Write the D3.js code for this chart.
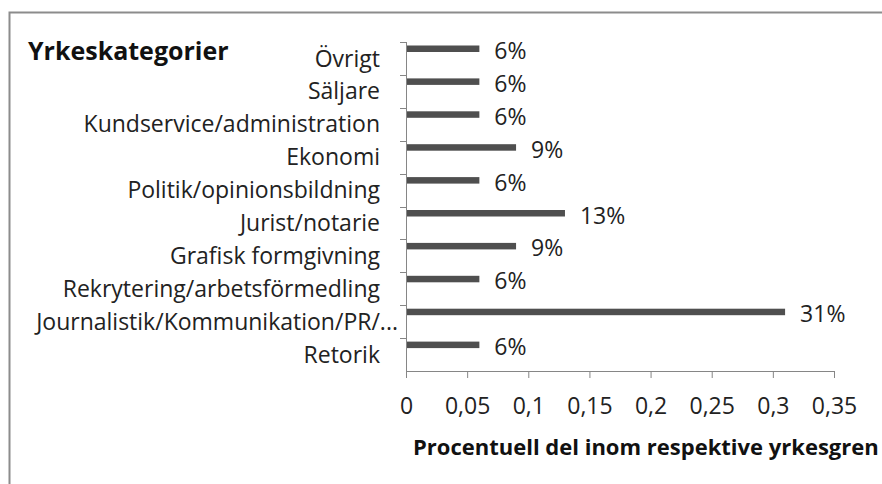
<!DOCTYPE html>
<html>
  <head>
    <title>Yrkeskategorier</title>
    <script src="https://d3js.org/d3.v7.min.js"></script>
    <style>
      body { background-color: white; margin: 0; }
      text { font-family: 'Open Sans', sans-serif; }
    </style>
  </head>
  <body>
    <svg id="canvas" height='484' width='882'></svg>

    <script>
      // categories top to bottom, as in the picture
      const categories = [
        'Övrigt',
        'Säljare',
        'Kundservice/administration',
        'Ekonomi',
        'Politik/opinionsbildning',
        'Jurist/notarie',
        'Grafisk formgivning',
        'Rekrytering/arbetsförmedling',
        'Journalistik/Kommunikation/PR/...',
        'Retorik'
      ]
      const shares = [0.06, 0.06, 0.06, 0.09, 0.06, 0.13, 0.09, 0.06, 0.31, 0.06]
      const xTicks = [0, 0.05, 0.1, 0.15, 0.2, 0.25, 0.3, 0.35]
      const xTickLabels = ['0', '0,05', '0,1', '0,15', '0,2', '0,25', '0,3', '0,35']

      const rows = categories.map((c, i) => ({ name: c, value: shares[i] }))

      const axisColor = '#868686'
      const barColor = '#4f4f4f'
      const textColor = '#222'
      const labelSize = 23

      let margin = { top: 42, left: 406, right: 48, bottom: 113 }

      let svg = d3.select('#canvas')
      let width = +svg.attr('width') - margin.left - margin.right
      let height = +svg.attr('height') - margin.top - margin.bottom

      // chart frame
      svg.append('rect')
        .attr('x', 9.5)
        .attr('y', 12.5)
        .attr('width', 900)
        .attr('height', 500)
        .attr('fill', 'white')
        .attr('stroke', '#8c8c8c')
        .attr('stroke-width', 2)

      let g = svg.append('g').attr('transform', `translate(${margin.left}, ${margin.top})`)

      let x = d3.scaleLinear().domain([0, 0.35]).range([0, width])
      let y = d3.scaleBand().domain(categories).range([0, height])

      // x axis
      let xAxis = g.append('g')
        .attr('transform', `translate(0, ${height})`)
        .call(d3.axisBottom(x).tickValues(xTicks).tickSize(7)
          .tickFormat((d, i) => xTickLabels[i]))
      xAxis.select('.domain').attr('stroke', axisColor)
      xAxis.selectAll('.tick line').attr('stroke', axisColor)
      xAxis.selectAll('.tick text')
        .attr('y', 35)
        .attr('dy', '0.35em')
        .attr('font-size', labelSize)
        .attr('font-family', "'Open Sans'")
        .attr('fill', textColor)

      // y axis: ticks between categories
      let yAxis = g.append('g')
      yAxis.append('line')
        .attr('x1', 0.5).attr('x2', 0.5)
        .attr('y1', 0).attr('y2', height + 7)
        .attr('stroke', axisColor)
      yAxis.selectAll('line.tick')
        .data(d3.range(categories.length))
        .enter()
        .append('line')
          .classed('tick', true)
          .attr('x1', -6).attr('x2', 0)
          .attr('y1', i => Math.round(y(categories[i])) + 0.5)
          .attr('y2', i => Math.round(y(categories[i])) + 0.5)
          .attr('stroke', axisColor)

      yAxis.selectAll('text')
        .data(rows)
        .enter()
        .append('text')
          .attr('x', d => d.name.endsWith('...') ? -8 : -26)
          .attr('y', d => y(d.name) + y.bandwidth() / 2)
          .attr('dy', '0.35em')
          .attr('text-anchor', 'end')
          .attr('font-size', labelSize)
          .attr('fill', textColor)
          .text(d => d.name)

      // bars
      g.append('g').selectAll('rect')
        .data(rows)
        .enter()
        .append('rect')
          .attr('x', 1)
          .attr('y', d => y(d.name) + 3.5)
          .attr('width', d => x(d.value) - 1)
          .attr('height', 6.5)
          .attr('fill', barColor)

      // value labels
      g.append('g').selectAll('text')
        .data(rows)
        .enter()
        .append('text')
          .attr('x', d => x(d.value) + 15)
          .attr('y', d => y(d.name) + 9)
          .attr('dy', '0.35em')
          .attr('font-size', labelSize)
          .attr('fill', textColor)
          .text(d => Math.round(d.value * 100) + '%')

      // titles
      svg.append('text')
        .attr('x', 28)
        .attr('y', 60)
        .attr('font-size', 25)
        .attr('font-weight', 'bold')
        .attr('fill', '#111')
        .text('Yrkeskategorier')

      svg.append('text')
        .attr('x', 413)
        .attr('y', 455)
        .attr('font-size', 22)
        .attr('font-weight', 'bold')
        .attr('fill', '#111')
        .text('Procentuell del inom respektive yrkesgren')
    </script>
  </body>
</html>
